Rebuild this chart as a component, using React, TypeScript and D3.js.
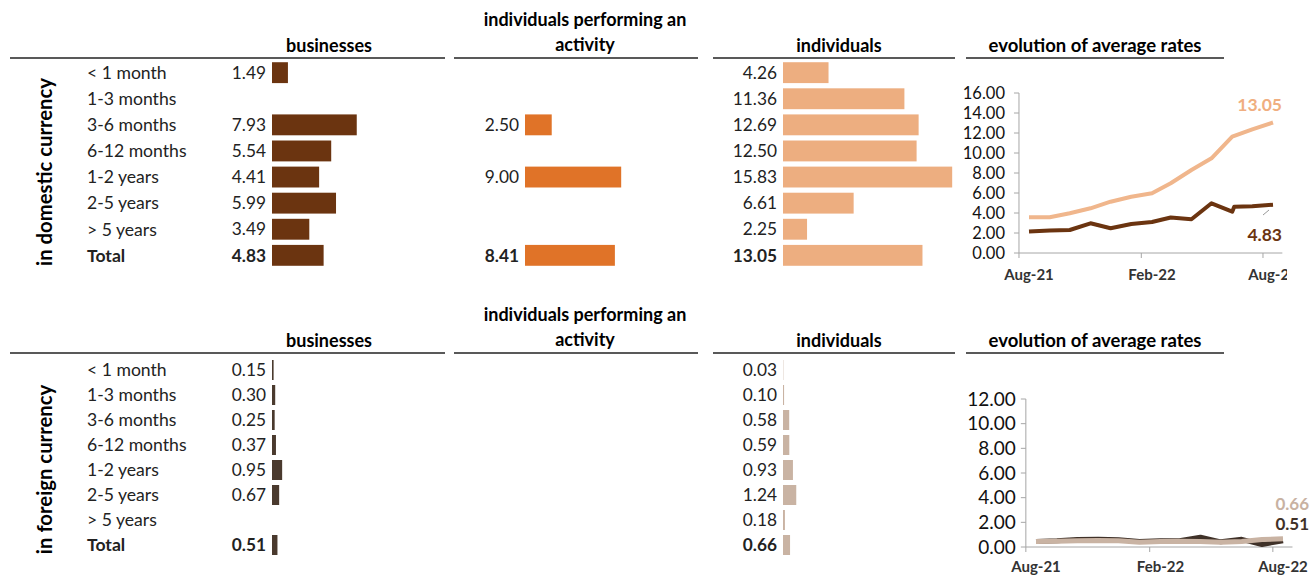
import * as d3 from "d3";

// maturity buckets (rows of both tables)
const terms = ["< 1 month", "1-3 months", "3-6 months", "6-12 months", "1-2 years", "2-5 years", "> 5 years", "Total"];

// average rates, domestic currency (%)
const domBusinesses = [1.49, null, 7.93, 5.54, 4.41, 5.99, 3.49, 4.83];
const domActivity = [null, null, 2.5, null, 9.0, null, null, 8.41];
const domIndividuals = [4.26, 11.36, 12.69, 12.5, 15.83, 6.61, 2.25, 13.05];

// average rates, foreign currency (%)
const fxBusinesses = [0.15, 0.3, 0.25, 0.37, 0.95, 0.67, null, 0.51];
const fxActivity = [null, null, null, null, null, null, null, null];
const fxIndividuals = [0.03, 0.1, 0.58, 0.59, 0.93, 1.24, 0.18, 0.66];

// evolution of average rates (monthly)
const domBusTrend: [string, number][] = [
  ["2021-08-01", 2.15], ["2021-09-01", 2.25], ["2021-10-01", 2.3], ["2021-11-01", 2.97],
  ["2021-12-01", 2.47], ["2022-01-01", 2.9], ["2022-02-01", 3.1], ["2022-03-01", 3.55],
  ["2022-04-01", 3.37], ["2022-05-01", 4.97], ["2022-06-01", 4.13], ["2022-06-04", 4.62],
  ["2022-07-01", 4.68], ["2022-08-01", 4.83],
];
const domIndTrend: [string, number][] = [
  ["2021-08-01", 3.57], ["2021-09-01", 3.57], ["2021-10-01", 3.97], ["2021-11-01", 4.47],
  ["2021-12-01", 5.13], ["2022-01-01", 5.63], ["2022-02-01", 5.97], ["2022-03-01", 6.97],
  ["2022-04-01", 8.3], ["2022-05-01", 9.47], ["2022-06-01", 11.63], ["2022-07-01", 12.37],
  ["2022-08-01", 13.05],
];
const fxBusTrend: [string, number][] = [
  ["2021-08-01", 0.45], ["2021-09-01", 0.5], ["2021-10-01", 0.6], ["2021-11-01", 0.62],
  ["2021-12-01", 0.58], ["2022-01-01", 0.45], ["2022-02-01", 0.5], ["2022-03-01", 0.5],
  ["2022-04-01", 0.8], ["2022-05-01", 0.42], ["2022-06-01", 0.62], ["2022-07-01", 0.2],
  ["2022-08-01", 0.51],
];
const fxIndTrend: [string, number][] = [
  ["2021-08-01", 0.45], ["2021-09-01", 0.47], ["2021-10-01", 0.5], ["2021-11-01", 0.52],
  ["2021-12-01", 0.5], ["2022-01-01", 0.38], ["2022-02-01", 0.45], ["2022-03-01", 0.47],
  ["2022-04-01", 0.45], ["2022-05-01", 0.38], ["2022-06-01", 0.45], ["2022-07-01", 0.6],
  ["2022-08-01", 0.66],
];

const domTicks = [0, 2, 4, 6, 8, 10, 12, 14, 16];
const fxTicks = [0, 2, 4, 6, 8, 10, 12];
const monthLabels = [["2021-08-01", "Aug-21"], ["2022-02-01", "Feb-22"], ["2022-08-01", "Aug-22"]];
const monthBoundaries = ["2021-07-17", "2022-01-16", "2022-07-17"];

const FONT = "Lato, 'Open Sans', sans-serif";
const parse = d3.timeParse("%Y-%m-%d");
const fmt = d3.format(".2f");

const barX = d3.scaleLinear().domain([0, 16]).range([0, 171]);
const colStart = [272, 525, 783];

interface TableProps {
  top: number;
  bandRange: [number, number];
  side: string;
  sideShift: number;
  series: (number | null)[][];
  colors: string[];
}

function Table({ top, bandRange, side, sideShift, series, colors }: TableProps) {
  const y = d3.scaleBand().domain(terms).range(bandRange).padding(0.2);
  const lineY = top + 58;
  const mid = (bandRange[0] + bandRange[1]) / 2 + sideShift;
  return (
    <g fontFamily={FONT}>
      {/* headers */}
      <text x={329} y={top + 52} textAnchor="middle" fontSize={18} fontWeight="bold">businesses</text>
      <text x={585} y={top + 26} textAnchor="middle" fontSize={18} fontWeight="bold">individuals performing an</text>
      <text x={585} y={top + 51} textAnchor="middle" fontSize={18} fontWeight="bold">activity</text>
      <text x={839} y={top + 52} textAnchor="middle" fontSize={18} fontWeight="bold">individuals</text>
      <text x={1095} y={top + 52} textAnchor="middle" fontSize={18.5} fontWeight="bold">evolution of average rates</text>
      <line x1={10} x2={445} y1={lineY} y2={lineY} stroke="#222" strokeWidth={1.5} />
      <line x1={454} x2={698} y1={lineY} y2={lineY} stroke="#222" strokeWidth={1.5} />
      <line x1={713} x2={955} y1={lineY} y2={lineY} stroke="#222" strokeWidth={1.5} />
      <line x1={966} x2={1224} y1={lineY} y2={lineY} stroke="#222" strokeWidth={1.5} />

      <text transform={`translate(45,${mid}) rotate(-90)`} textAnchor="middle" dy="0.35em"
        fontSize={20.3} fontWeight="bold">{side}</text>

      {terms.map((t) => (
        <text key={t} x={87} y={(y(t) || 0) + y.bandwidth() / 2} dy="0.36em" fontSize={17.6}
          fontWeight={t === "Total" ? "bold" : "normal"} fill="#222">{t}</text>
      ))}

      {series.map((vals, c) =>
        vals.map((v, i) => {
          if (v == null) return null;
          const t = terms[i];
          const yy = y(t) || 0;
          return (
            <g key={`${c}-${i}`}>
              <rect x={colStart[c]} y={yy} width={barX(v)} height={y.bandwidth()} fill={colors[c]} />
              <text x={colStart[c] - 6} y={yy + y.bandwidth() / 2} dy="0.36em" textAnchor="end"
                fontSize={17.3} fontWeight={t === "Total" ? "bold" : "normal"} fill="#222">{fmt(v)}</text>
            </g>
          );
        })
      )}
    </g>
  );
}

interface TrendProps {
  xRange: [number, number];
  yRange: [number, number];
  ticks: number[];
  max: number;
  a: [string, number][];
  b: [string, number][];
  colA: string;
  colB: string;
  lw: number;
  tickFont: number;
  tickGap: number;
  labelY: number;
  clipRight?: number;
  id: string;
  labels: { text: string; x: number; y: number; color: string; size: number }[];
}

function Trend(p: TrendProps) {
  const x = d3.scaleTime()
    .domain([parse("2021-08-01")!, parse("2022-08-01")!])
    .range(p.xRange);
  const y = d3.scaleLinear().domain([0, p.max]).range(p.yRange);
  const line = d3.line<[string, number]>()
    .x((d) => x(parse(d[0])!))
    .y((d) => y(d[1]));
  const x0 = x(parse(monthBoundaries[0])!);
  const xEnd = x(parse("2022-08-15")!);
  const y0 = y(0);
  return (
    <g fontFamily={FONT}>
      {p.clipRight && (
        <clipPath id={p.id}>
          <rect x={940} y={0} width={p.clipRight - 940} height={600} />
        </clipPath>
      )}
      <line x1={x0} x2={x0} y1={y(p.max)} y2={y0} stroke="#a6a6a6" />
      {p.ticks.map((t) => (
        <g key={t}>
          <line x1={x0 - 5} x2={x0} y1={y(t)} y2={y(t)} stroke="#a6a6a6" />
          <text x={x0 - p.tickGap} y={y(t)} dy="0.35em" textAnchor="end" fontSize={p.tickFont} fill="#111">{fmt(t)}</text>
        </g>
      ))}
      <line x1={x0} x2={xEnd} y1={y0} y2={y0} stroke="#a6a6a6" />
      {monthBoundaries.map((d) => (
        <line key={d} x1={x(parse(d)!)} x2={x(parse(d)!)} y1={y0} y2={y0 + 5} stroke="#a6a6a6" />
      ))}
      <g clipPath={p.clipRight ? `url(#${p.id})` : undefined}>
        {monthLabels.map(([d, l]) => (
          <text key={l} x={x(parse(d)!)} y={p.labelY} textAnchor="middle" fontSize={15}
            fontWeight="bold" fill="#333">{l}</text>
        ))}
      </g>
      <path d={line(p.a) || ""} fill="none" stroke={p.colA} strokeWidth={p.lw} strokeLinejoin="round" />
      <path d={line(p.b) || ""} fill="none" stroke={p.colB} strokeWidth={p.lw} strokeLinejoin="round" />
      {p.labels.map((l) => (
        <text key={l.text} x={l.x} y={l.y} dy="0.35em" textAnchor="end" fontSize={l.size}
          fontWeight="bold" fill={l.color}>{l.text}</text>
      ))}
    </g>
  );
}

export default function App() {
  const last = (s: [string, number][]) => fmt(s[s.length - 1][1]);
  return (
    <div style={{ position: "absolute", left: 0, top: 0 }}>
      <svg width={1310} height={575} style={{ display: "block", background: "#fff" }}>
        <Table top={0} bandRange={[57, 271]} side="in domestic currency" sideShift={8}
          series={[domBusinesses, domActivity, domIndividuals]}
          colors={["#6b3410", "#e07328", "#edae80"]} />
        <Table top={295} bandRange={[355, 560]} side="in foreign currency" sideShift={12}
          series={[fxBusinesses, fxActivity, fxIndividuals]}
          colors={["#4a3a2e", "#e07328", "#c9b3a3"]} />

        <Trend id="clipTop" xRange={[1029, 1273]} yRange={[253, 93]} ticks={domTicks} max={16}
          a={domBusTrend} b={domIndTrend} colA="#6b3410" colB="#f0b68c" lw={4}
          tickFont={16.5} tickGap={14} labelY={280} clipRight={1287}
          labels={[
            { text: last(domIndTrend), x: 1282, y: 105, color: "#f0ae80", size: 17.5 },
            { text: last(domBusTrend), x: 1282, y: 235, color: "#6b3410", size: 17.5 },
          ]} />
        <line x1={1263} y1={215} x2={1269} y2={210} stroke="#999" strokeWidth={1} />

        <Trend id="clipBottom" xRange={[1036, 1283]} yRange={[547, 399]} ticks={fxTicks} max={12}
          a={fxBusTrend} b={fxIndTrend} colA="#3f3128" colB="#c9b3a3" lw={5}
          tickFont={19} tickGap={10} labelY={572}
          labels={[
            { text: last(fxIndTrend), x: 1309, y: 504, color: "#c8b2a2", size: 17 },
            { text: last(fxBusTrend), x: 1309, y: 524, color: "#3f3128", size: 17 },
          ]} />
      </svg>
    </div>
  );
}
